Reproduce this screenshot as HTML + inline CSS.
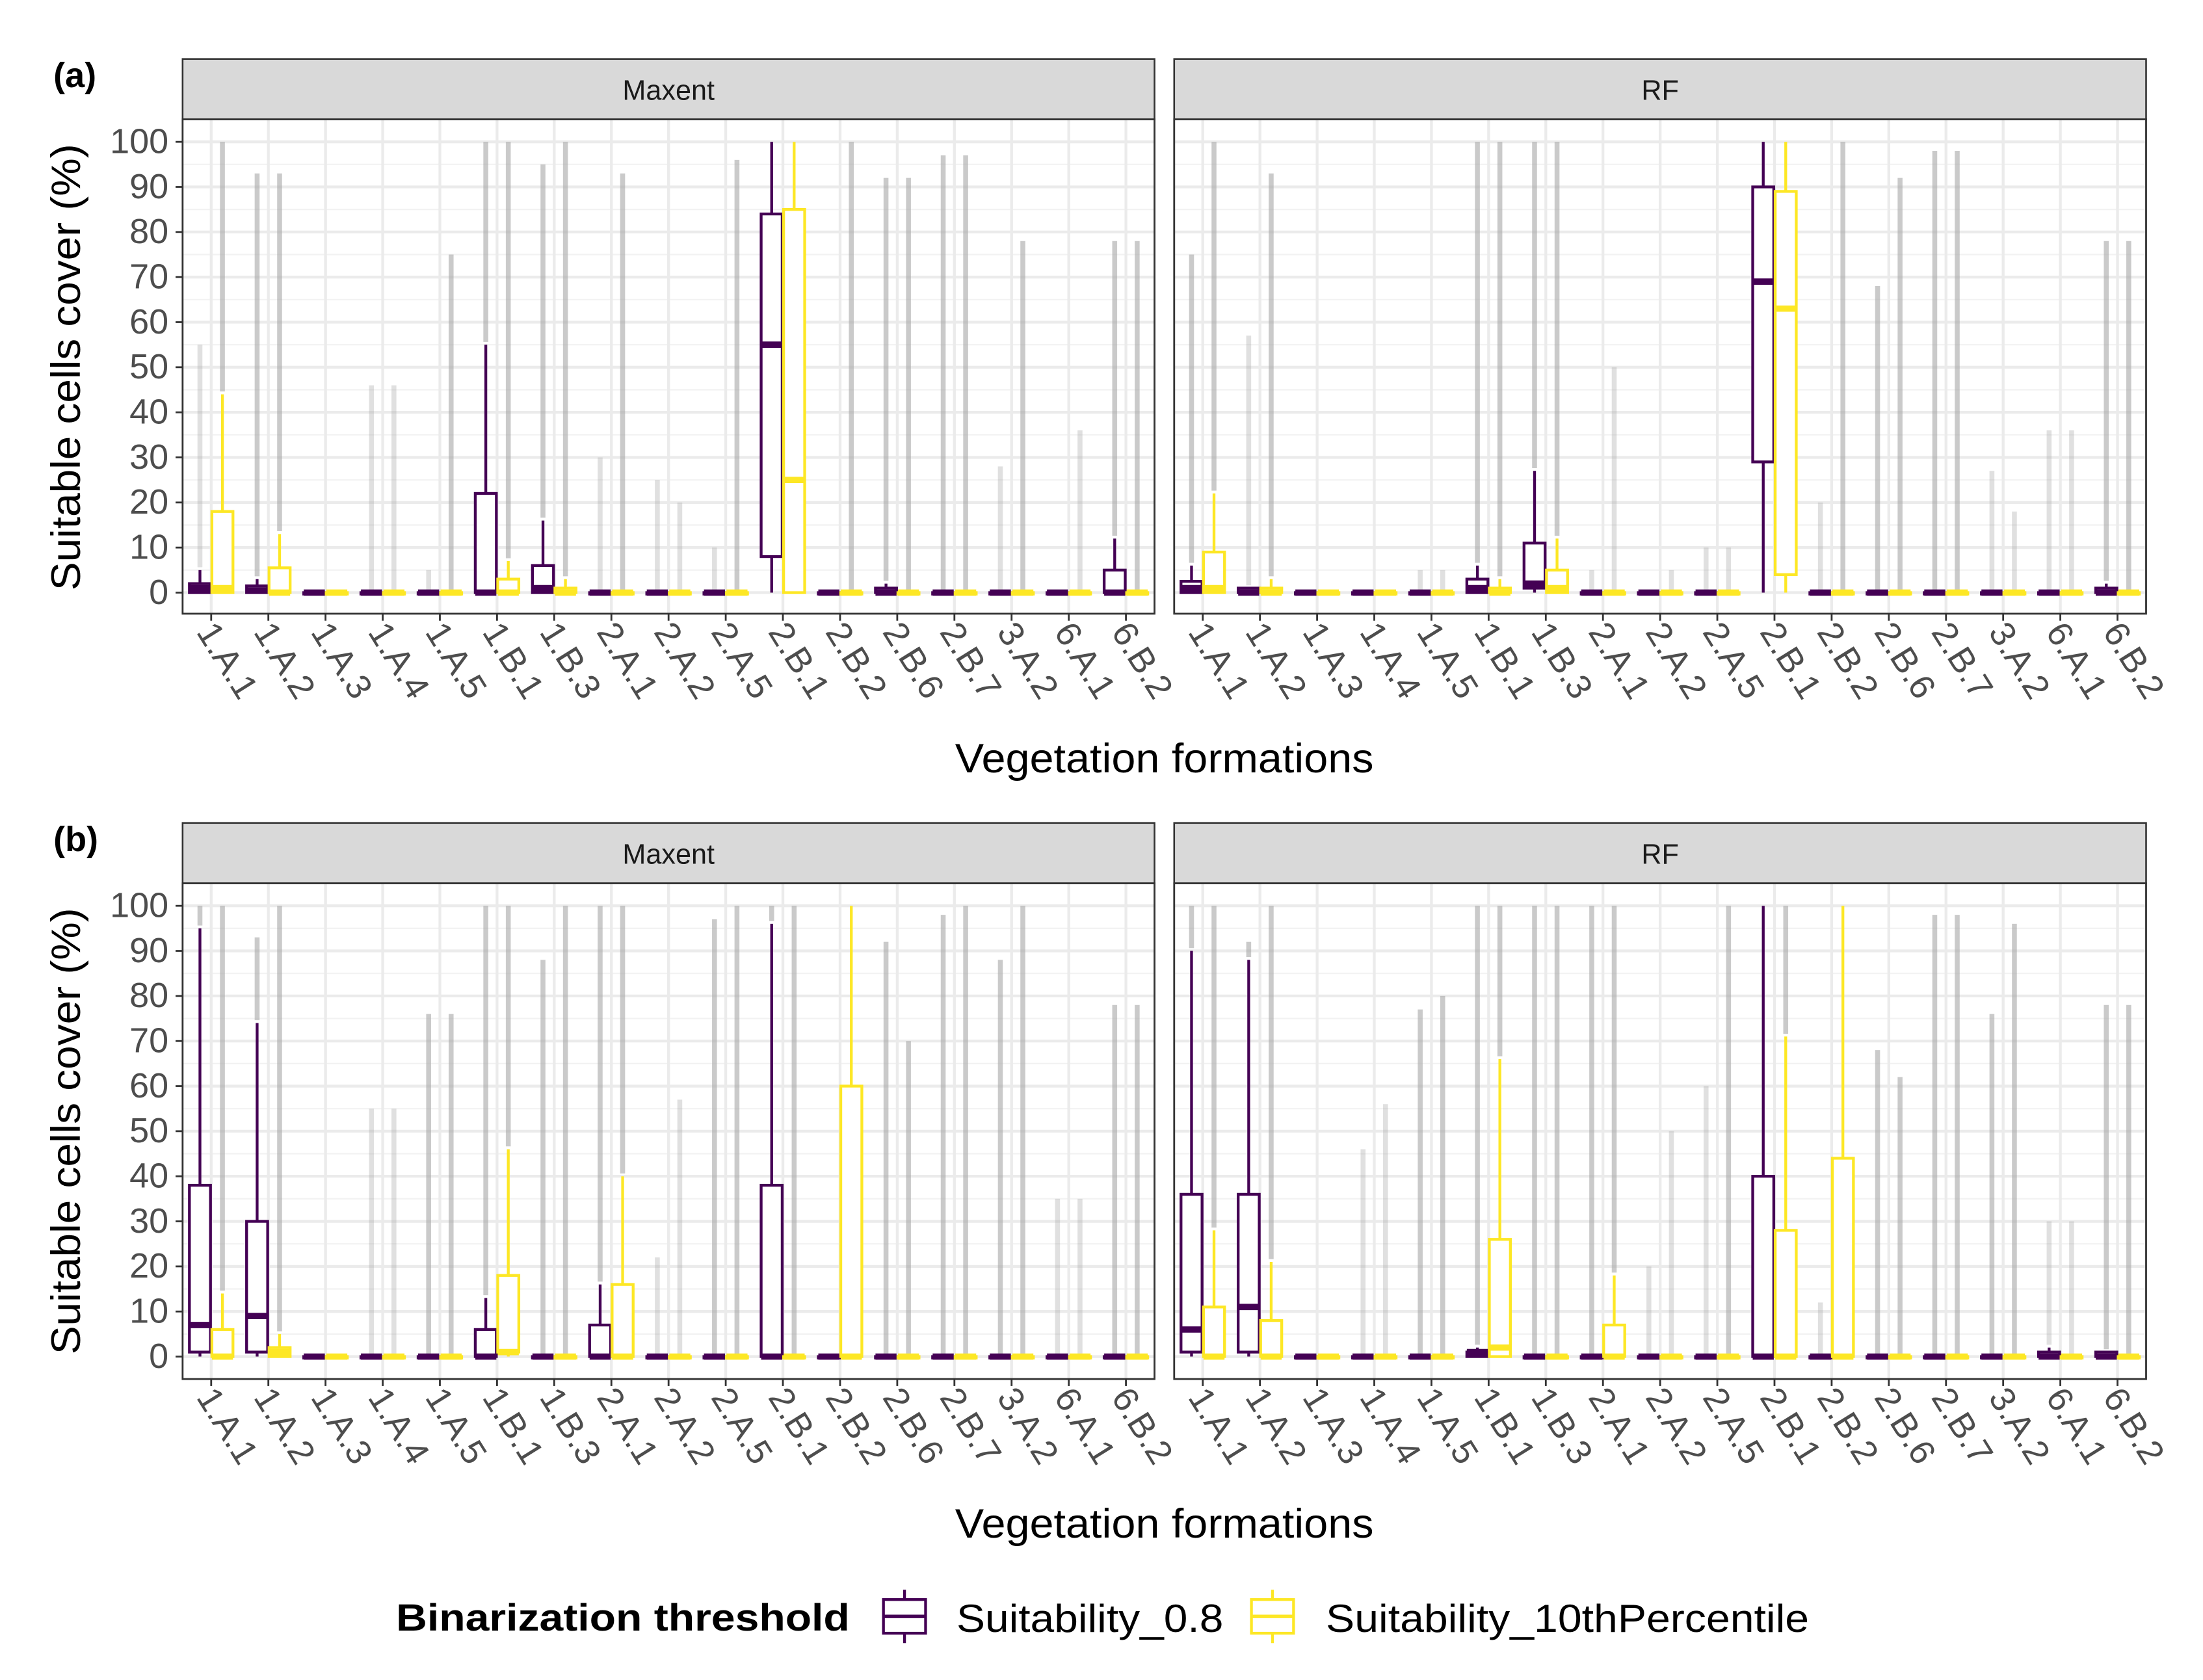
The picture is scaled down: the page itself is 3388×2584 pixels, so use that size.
<!DOCTYPE html>
<html><head><meta charset="utf-8"><style>
html,body{margin:0;padding:0;background:#fff}
svg{display:block}
text{font-family:"Liberation Sans",Arial,sans-serif}
</style></head><body>
<svg id="chart" width="3388" height="2584" viewBox="0 0 1568.5 1196.3" xmlns="http://www.w3.org/2000/svg">
<rect x="0" y="0" width="1570" height="1200" fill="#fff"/>
</svg>
<script>
// ---- data ----
const categories = ["1.A.1","1.A.2","1.A.3","1.A.4","1.A.5","1.B.1","1.B.3","2.A.1","2.A.2","2.A.5","2.B.1","2.B.2","2.B.6","2.B.7","3.A.2","6.A.1","6.B.2"];
const seriesNames = ["Suitability_0.8","Suitability_10thPercentile"];
const yTicks = [0,10,20,30,40,50,60,70,80,90,100];
// each stat: [whiskerLow, q1, median, q3, whiskerHigh, outlierMax]
const aMaxentP = [[0,0,1,2,5,55],[0,0,0.5,1.5,3,93],[0,0,0,0,0,0],[0,0,0,0,0,46],[0,0,0,0,0,5],[0,0,0,22,55,100],[0,0,1,6,16,95],[0,0,0,0,0,30],[0,0,0,0,0,25],[0,0,0,0,0,10],[0,8,55,84,100,100],[0,0,0,0,0,0],[0,0,0,1,2,92],[0,0,0,0,0,97],[0,0,0,0,0,28],[0,0,0,0,0,0],[0,0,0,5,12,78]];
const aMaxentY = [[0,0,1,18,44,100],[0,0,0,5.5,13,93],[0,0,0,0,0,0],[0,0,0,0,0,46],[0,0,0,0,0,75],[0,0,0,3,7,100],[0,0,0,1,3,100],[0,0,0,0,0,93],[0,0,0,0,0,20],[0,0,0,0,0,96],[0,0,25,85,100,100],[0,0,0,0,0,100],[0,0,0,0,0,92],[0,0,0,0,0,97],[0,0,0,0,0,78],[0,0,0,0,0,36],[0,0,0,0,0,78]];
const aRfP = [[0,0,1,2.5,6,75],[0,0,0,1,1,57],[0,0,0,0,0,0],[0,0,0,0,0,0],[0,0,0,0,0,5],[0,0,1,3,6,100],[0,1,2,11,27,100],[0,0,0,0,0,5],[0,0,0,0,0,0],[0,0,0,0,0,10],[0,29,69,90,100,100],[0,0,0,0,0,20],[0,0,0,0,0,68],[0,0,0,0,0,98],[0,0,0,0,0,27],[0,0,0,0,0,36],[0,0,0,1,2,78]];
const aRfY = [[0,0,1,9,22,100],[0,0,0,1,3,93],[0,0,0,0,0,0],[0,0,0,0,0,0],[0,0,0,0,0,5],[0,0,0,1,3,100],[0,0,1,5,12,100],[0,0,0,0,0,50],[0,0,0,0,0,5],[0,0,0,0,0,10],[0,4,63,89,100,100],[0,0,0,0,0,100],[0,0,0,0,0,92],[0,0,0,0,0,98],[0,0,0,0,0,18],[0,0,0,0,0,36],[0,0,0,0,0,78]];
const bMaxentP = [[0,1,7,38,95,100],[0,1,9,30,74,93],[0,0,0,0,0,0],[0,0,0,0,0,55],[0,0,0,0,0,76],[0,0,0,6,13,100],[0,0,0,0,0,88],[0,0,0,7,16,100],[0,0,0,0,0,22],[0,0,0,0,0,97],[0,0,0,38,96,100],[0,0,0,0,0,0],[0,0,0,0,0,92],[0,0,0,0,0,98],[0,0,0,0,0,88],[0,0,0,0,0,35],[0,0,0,0,0,78]];
const bMaxentY = [[0,0,0,6,14,100],[0,0,1,2,5,100],[0,0,0,0,0,0],[0,0,0,0,0,55],[0,0,0,0,0,76],[0,1,1,18,46,100],[0,0,0,0,0,100],[0,0,0,16,40,100],[0,0,0,0,0,57],[0,0,0,0,0,100],[0,0,0,0,0,100],[0,0,0,60,100,100],[0,0,0,0,0,70],[0,0,0,0,0,100],[0,0,0,0,0,100],[0,0,0,0,0,35],[0,0,0,0,0,78]];
const bRfP = [[0,1,6,36,90,100],[0,1,11,36,88,92],[0,0,0,0,0,0],[0,0,0,0,0,46],[0,0,0,0,0,77],[0,0,1,1,2,100],[0,0,0,0,0,100],[0,0,0,0,0,100],[0,0,0,0,0,20],[0,0,0,0,0,60],[0,0,0,40,100,100],[0,0,0,0,0,12],[0,0,0,0,0,68],[0,0,0,0,0,98],[0,0,0,0,0,76],[0,0,0,1,2,30],[0,0,0,1,1,78]];
const bRfY = [[0,0,0,11,28,100],[0,0,0,8,21,100],[0,0,0,0,0,0],[0,0,0,0,0,56],[0,0,0,0,0,80],[0,0,2,26,66,100],[0,0,0,0,0,100],[0,0,0,7,18,100],[0,0,0,0,0,50],[0,0,0,0,0,100],[0,0,0,28,71,100],[0,0,0,44,100,100],[0,0,0,0,0,62],[0,0,0,0,0,98],[0,0,0,0,0,96],[0,0,0,0,0,30],[0,0,0,0,0,78]];

// ---- drawing ----
const cats = categories;
const svg = document.getElementById('chart');
const NS = "http://www.w3.org/2000/svg";
function mk(tag, attrs, parent){const e=document.createElementNS(NS,tag);for(const k in attrs)e.setAttribute(k,attrs[k]);(parent||svg).appendChild(e);return e;}
const COLORS = ["#440154","#FDE725"];
const panels = [
 {label:"(a)", top:42, y0:422, y100:101, bottom:437, sets:[[aMaxentP,aMaxentY],[aRfP,aRfY]]},
 {label:"(b)", top:586, y0:966, y100:645, bottom:982, sets:[[bMaxentP,bMaxentY],[bRfP,bRfY]]}
];
const facets = [{name:"Maxent",x0:130,x1:822},{name:"RF",x0:836,x1:1528}];
const n = cats.length;

panels.forEach((P,pi)=>{
  const yScale = v => P.y0 + (P.y100-P.y0)*v/100;
  const plotTop = P.top+43;
  const lab = mk('text',{x:38,y:P.top+20,'font-size':25,'font-weight':'bold',fill:'#000'});
  
  
  lab.textContent=P.label;
  const yt = mk('text',{x:0,y:0,'font-size':29,fill:'#000','text-anchor':'middle',textLength:318,lengthAdjust:'spacingAndGlyphs',transform:`translate(57,${(P.y0+P.y100)/2}) rotate(-90)`});
  
  
  yt.textContent="Suitable cells cover (%)";
  const xt = mk('text',{x:829,y:P.bottom+113,'font-size':29,fill:'#000','text-anchor':'middle',textLength:298,lengthAdjust:'spacingAndGlyphs'});
  
  
  xt.textContent="Vegetation formations";
  facets.forEach((F,fi)=>{
    const g = mk('g',{});
    
    
    const bw = (F.x1-F.x0)/n;
    const xC = i => F.x0 + (i+0.5)*bw;
    const st = mk('rect',{x:F.x0,y:P.top,width:F.x1-F.x0,height:43,fill:'#d9d9d9',stroke:'#333','stroke-width':1.2},g);
    
    
    const stt = mk('text',{x:(F.x0+F.x1)/2,y:P.top+29,'font-size':20,fill:'#1a1a1a','text-anchor':'middle'},g);
    
    
    stt.textContent=F.name;
    mk('rect',{x:F.x0,y:plotTop,width:F.x1-F.x0,height:P.bottom-plotTop,fill:'#fff'},g);
    for(let v=5; v<=100; v+=10){mk('line',{x1:F.x0,x2:F.x1,y1:yScale(v),y2:yScale(v),stroke:'#f2f2f2','stroke-width':1},g);}
    yTicks.forEach(v=>{mk('line',{x1:F.x0,x2:F.x1,y1:yScale(v),y2:yScale(v),stroke:'#ebebeb','stroke-width':2},g);});
    cats.forEach((c,i)=>{mk('line',{x1:xC(i),x2:xC(i),y1:plotTop,y2:P.bottom,stroke:'#ebebeb','stroke-width':2},g);});
    const sets = P.sets[fi];
    sets.forEach((arr,si)=>{
      arr.slice(0,n).forEach((d,i)=>{
        const cx = xC(i) + (si===0?-8:8);
        const w = 15;
        const [lo,q1,md,q3,hi,om] = d;
        const bg = mk('g',{},g);
        
        
        if(om>hi){
          const ol = mk('line',{x1:cx,x2:cx,y1:yScale(hi)-2,y2:yScale(om),stroke:'#a6a6a6','stroke-width':3.5,'stroke-opacity':om>60?0.6:0.35},bg);
          
          
        }
        mk('line',{x1:cx,x2:cx,y1:yScale(lo),y2:yScale(hi),stroke:COLORS[si],'stroke-width':2},bg);
        mk('rect',{x:cx-w/2,y:yScale(q3),width:w,height:Math.max(yScale(q1)-yScale(q3),1),fill:'#fff',stroke:COLORS[si],'stroke-width':2},bg);
        mk('line',{x1:cx-w/2,x2:cx+w/2,y1:yScale(md),y2:yScale(md),stroke:COLORS[si],'stroke-width':4.5},bg);
      });
    });
    mk('rect',{x:F.x0,y:plotTop,width:F.x1-F.x0,height:P.bottom-plotTop,fill:'none',stroke:'#333','stroke-width':1.3},g);
    cats.forEach((c,i)=>{
      mk('line',{x1:xC(i),x2:xC(i),y1:P.bottom,y2:P.bottom+5,stroke:'#333','stroke-width':1.3},g);
      const t = mk('text',{x:0,y:0,'font-size':25,fill:'#4d4d4d',transform:`translate(${xC(i)-11},${P.bottom+13}) rotate(58)`},g);
      
      
      t.textContent=c;
    });
    if(fi===0){
      yTicks.forEach(v=>{
        mk('line',{x1:F.x0-5,x2:F.x0,y1:yScale(v),y2:yScale(v),stroke:'#333','stroke-width':1.3},g);
        const t = mk('text',{x:F.x0-10,y:yScale(v)+8,'font-size':25,fill:'#4d4d4d','text-anchor':'end'},g);
        
        
        t.textContent=v;
      });
    }
  });
});
const lg = mk('g',{});


const lt = mk('text',{x:282,y:1161,'font-size':27,'font-weight':'bold',fill:'#000',textLength:323,lengthAdjust:'spacingAndGlyphs'},lg);


lt.textContent="Binarization threshold";
[[644,681,190],[906,944,344]].forEach((p,si)=>{
  const e = mk('g',{},lg);
  
  
  mk('line',{x1:p[0],x2:p[0],y1:1132,y2:1170,stroke:COLORS[si],'stroke-width':2},e);
  mk('rect',{x:p[0]-15,y:1139,width:30,height:24,fill:'#fff',stroke:COLORS[si],'stroke-width':2},e);
  mk('line',{x1:p[0]-15,x2:p[0]+15,y1:1151,y2:1151,stroke:COLORS[si],'stroke-width':2.5},e);
  const t = mk('text',{x:p[1],y:1162,'font-size':28,fill:'#000',textLength:p[2],lengthAdjust:'spacingAndGlyphs'},e);
  t.textContent=seriesNames[si];
});
</script>
</body></html>
